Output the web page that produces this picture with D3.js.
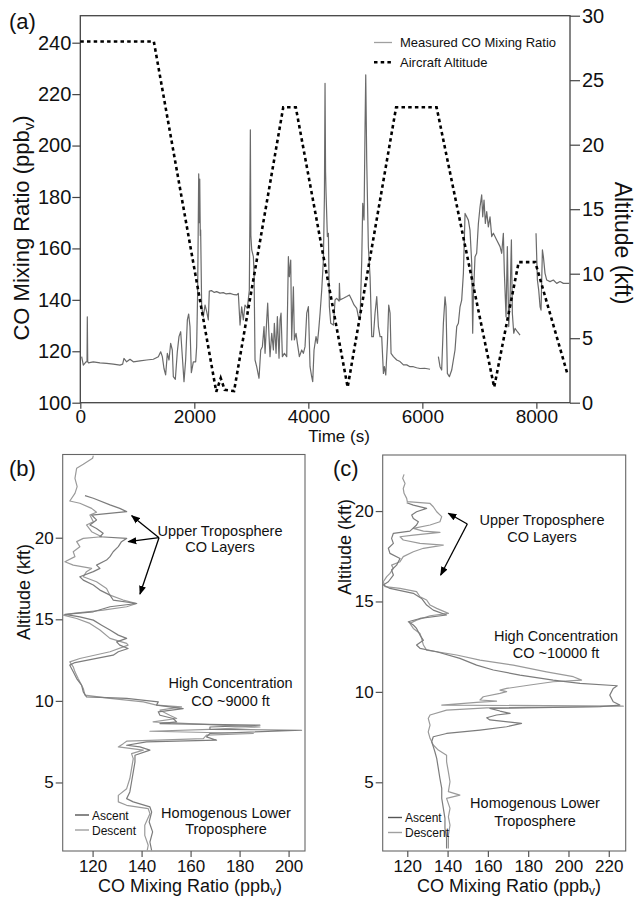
<!DOCTYPE html>
<html>
<head>
<meta charset="utf-8">
<script src="https://cdn.jsdelivr.net/npm/d3@7"></script>
<style>
body { margin: 0; background: #fff; }
text { font-family: "Liberation Sans", Arial, sans-serif; fill: #111; }
</style>
</head>
<body>
<script>
// ---- panel (a): time series, [time s, CO ppbv] ----
var coSeg1 = [[24,117.9],[53,114.6],[100,115.9],[118,116],[123,133.4],[130,116],[141,115.5],[228,115.9],[345,115.5],[462,115.3],[579,115.0],[696,114.6],[743,115.0],[766,117.2],[813,115.9],[872,116.9],[930,115.9],[1047,116.3],[1164,116.6],[1281,116.9],[1369,117.9],[1410,119.8],[1439,117.9],[1468,113.3],[1497,110.8],[1527,119.2],[1556,116.6],[1585,123.1],[1614,120.5],[1632,110.1],[1667,109.1],[1702,119.8],[1731,125.7],[1761,127.6],[1790,117.9],[1819,108.2],[1848,116.6],[1878,132.2],[1901,134.5],[1924,129.6],[1948,111.7],[1983,115.9],[2024,115.9],[2041,121.8],[2059,143.8],[2077,189],[2088,170],[2095,187],[2105,165],[2111,167.2],[2129,137.3],[2158,133.4],[2188,138.0],[2217,135.4],[2246,132.2],[2263,143.4],[2300,143.6],[2350,142.9],[2392,143.2],[2450,142.6],[2509,142.8],[2560,142.3],[2626,142.5],[2700,142.0],[2743,141.9],[2772,142.5],[2802,130.2],[2831,137.3],[2860,132.2],[2889,138.0],[2930,136.7],[2965,143.8],[2974,170],[2983,206.1],[2992,165],[3007,159.4],[3036,156.8],[3048,150.3],[3065,116.6],[3094,114.0],[3135,109.5],[3165,120.5],[3194,121.8],[3223,129.6],[3241,119.2],[3270,132.2],[3287,138.7],[3311,125.7],[3328,117.9],[3358,127.0],[3387,120.5],[3404,130.9],[3434,119.2],[3457,133.5],[3486,117.3],[3504,132.2],[3521,134.8],[3545,117.9],[3580,119.2],[3621,117.9],[3650,156.8],[3667,149.0],[3691,155.5],[3708,124.4],[3738,145.1],[3755,124.4],[3784,127.0],[3808,123.1],[3843,117.9],[3884,120.5],[3913,119.2],[3942,121.8],[3972,134.8],[4001,137.4],[4030,114.0],[4059,110.1],[4077,108.2],[4100,120.5],[4135,125.7],[4159,123.1],[4182,128.3],[4206,134.8],[4235,143.8],[4264,155.5],[4282,180],[4293,224.2],[4302,190],[4311,181.4],[4334,164.6],[4352,165.9],[4369,137.4],[4393,130.9],[4440,130.2],[4469,140.0],[4498,140.6],[4540,139.5],[4545,146.4],[4556,140.0],[4615,140.6],[4673,141.3],[4720,141.9],[4761,140.0],[4802,138.0],[4849,136.7],[4878,133.5],[4907,132.2],[4937,155.5],[4954,177.5],[4977,171.1],[4995,207.4],[5007,227.5],[5024,194.4],[5053,160.7],[5083,149.0],[5112,125.7],[5141,125.7],[5170,134.8],[5200,141.3],[5229,129.6],[5258,125.7],[5287,125.7],[5317,111.4],[5334,114.0],[5358,110.8],[5387,123.1],[5410,138.0],[5434,134.8],[5451,119.2],[5492,117.9],[5551,116.6],[5609,116.0],[5668,114.7],[5726,114.7],[5784,114.0],[5842,114.0],[5900,113.6],[5959,113.3],[6040,113.4],[6135,113.0]];
var coSeg2 = [[6281,117.9],[6310,114.0],[6339,112.7],[6369,130.9],[6398,141.2],[6415,137.3],[6439,111.4],[6474,110.1],[6515,112.7],[6544,116.6],[6573,120.5],[6603,129.6],[6632,130.9],[6661,137.3],[6690,139.9],[6720,150.3],[6749,173.6],[6778,172.3],[6807,171.0],[6836,167.1],[6866,154.2],[6883,127.0],[6895,141.2],[6924,156.8],[6953,158.1],[6983,169.7],[7012,176.2],[7041,180.8],[7059,172.3],[7082,178.8],[7105,169.7],[7129,174.3],[7158,168.4],[7187,172.3],[7217,164.6],[7246,165.9],[7304,163.3],[7363,160.7],[7392,158.1],[7421,165.9],[7439,150.3],[7468,133.4],[7491,160.7],[7515,129.6],[7538,139.9],[7562,163.3],[7579,134.7],[7603,127.0],[7626,128.9],[7667,127.6],[7714,126.3]];
var coSeg3 = [[7994,165.9],[8018,147.7],[8041,143.8],[8065,137.3],[8082,136.0],[8106,159.4],[8123,156.8],[8152,150.3],[8182,147.7],[8240,147.1],[8298,147.7],[8357,146.4],[8415,147.1],[8474,146.4],[8579,146.4]];
// [time s, altitude kft]
var altitude = [[0,28],[1290,28],[2385,0.85],[2463,1.9],[2533,1.0],[2697,0.9],[3560,22.9],[3780,22.9],[4690,1.2],[5540,22.9],[6250,22.9],[7260,1.2],[7690,10.9],[7980,10.9],[8540,2.3]];

var timeTicks = [0, 2000, 4000, 6000, 8000];
var coTicksA = [100, 120, 140, 160, 180, 200, 220, 240];
var altTicksA = [0, 5, 10, 15, 20, 25, 30];

// ---- panel (b): profile, [CO ppbv, altitude kft] ----
var descentB = [[120.3,25.03],[120.0,24.87],[116.2,24.50],[113.5,24.26],[112.8,23.64],[113.7,23.13],[112.8,22.72],[110.7,22.25],[114.8,22.11],[119.6,21.80],[121.6,21.56],[118.9,21.39],[120.3,20.98],[117.5,20.78],[119.6,20.37],[123.7,20.06],[116.2,19.96],[113.5,19.76],[114.8,19.45],[112.1,19.14],[112.8,18.84],[108.7,18.53],[112.1,18.32],[119.6,18.12],[117.5,17.92],[116.2,17.61],[121.6,17.30],[125.7,16.89],[127.1,16.48],[132.5,16.18],[138.0,15.97],[133.9,15.77],[124.3,15.56],[112.1,15.36],[108.0,15.26],[113.5,15.05],[118.9,14.75],[123.0,14.34],[127.1,13.83],[133.9,13.52],[134.5,13.42],[127.1,13.01],[114.8,12.60],[110.7,12.39],[112.1,12.09],[112.8,11.78],[114.1,11.37],[116.2,10.76],[116.9,10.35],[127.1,10.15],[140.7,9.94],[146.1,9.74],[156.3,9.63],[147.5,9.43],[151.5,9.12],[154.3,8.92],[144.7,8.71],[188.3,8.40],[167.9,8.26],[143.4,8.14],[185.6,8.00],[166.5,7.90],[165.2,7.69],[133.9,7.53],[132.5,7.38],[130.5,7.18],[140.7,6.98],[135.9,6.77],[136.6,6.46],[135.9,5.85],[135.2,5.24],[133.9,4.62],[130.5,4.21],[130.5,3.81],[133.9,3.60],[142.7,3.40],[143.4,3.09],[141.3,2.38],[141.3,1.76],[142.7,1.15],[142.3,0.84]];
var ascentB = [[144.1,0.84],[143.4,1.35],[144.5,1.97],[143.1,2.58],[144.1,3.19],[143.4,3.50],[136.6,3.81],[133.9,4.01],[135.2,4.42],[135.9,5.03],[136.6,5.65],[137.3,6.26],[137.3,6.67],[143.4,6.98],[139.3,7.18],[133.9,7.28],[142.0,7.49],[170.6,7.59],[166.5,7.79],[167.9,8.00],[205.3,8.20],[167.9,8.26],[167.9,8.40],[188.3,8.51],[147.5,8.61],[154.3,8.71],[152.9,8.92],[147.5,9.12],[146.8,9.33],[157.0,9.53],[146.1,9.74],[146.8,9.94],[133.9,10.15],[117.5,10.25],[116.2,10.55],[115.5,10.96],[113.5,11.37],[112.1,11.78],[110.7,12.19],[112.8,12.35],[121.6,12.60],[128.4,12.80],[130.5,13.01],[134.5,13.21],[131.1,13.42],[129.8,13.62],[133.9,13.83],[130.5,14.03],[127.1,14.34],[123.7,14.64],[120.3,14.95],[114.8,15.15],[108.7,15.30],[120.3,15.46],[127.1,15.77],[138.0,15.97],[128.4,16.18],[127.1,16.48],[123.0,16.79],[120.3,17.10],[116.2,17.40],[114.8,17.61],[120.3,17.92],[123.0,18.12],[121.6,18.32],[125.7,18.63],[127.1,18.84],[128.4,19.14],[130.5,19.45],[131.8,19.76],[133.9,19.96],[123.0,20.06],[124.3,20.27],[121.6,20.57],[118.9,20.78],[121.6,21.09],[119.6,21.39],[133.9,21.60],[131.1,21.80],[127.1,22.01],[120.3,22.42],[116.9,22.58]];
var coTicksB = [120, 140, 160, 180, 200];

// ---- panel (c): profile, [CO ppbv, altitude kft] ----
var descentC = [[118.4,22.03],[117.7,21.81],[118.9,21.53],[118.0,21.25],[118.4,20.98],[119.7,20.70],[120.0,20.52],[131.3,20.42],[132.9,20.24],[134.6,19.96],[137.1,19.69],[136.2,19.41],[131.3,19.23],[123.0,19.04],[128.0,18.89],[136.2,18.82],[123.0,18.67],[116.4,18.58],[118.0,18.40],[126.3,18.21],[137.9,18.12],[128.0,17.94],[123.0,17.75],[118.0,17.48],[116.4,17.20],[112.2,17.01],[113.1,16.83],[111.4,16.55],[109.8,16.37],[108.1,16.09],[108.9,15.82],[116.4,15.72],[124.6,15.54],[126.3,15.26],[129.6,15.08],[131.3,14.80],[134.6,14.62],[140.4,14.34],[131.3,14.21],[124.6,13.97],[121.3,13.79],[123.0,13.51],[126.3,13.23],[127.1,12.96],[128.0,12.59],[129.6,12.31],[144.5,12.04],[156.1,11.76],[172.6,11.48],[189.1,11.11],[202.4,10.84],[206.5,10.65],[192.4,10.56],[180.9,10.38],[169.3,10.19],[166.0,10.10],[169.3,10.01],[166.0,9.92],[157.7,9.73],[156.1,9.55],[164.3,9.49],[154.4,9.42],[137.1,9.27],[227.2,9.21],[159.4,9.12],[139.5,8.99],[131.3,8.72],[130.4,8.53],[131.3,8.16],[130.4,7.79],[131.3,7.43],[132.9,7.06],[135.4,6.78],[139.5,6.50],[139.5,6.14],[140.4,5.58],[141.2,5.03],[140.4,4.48],[146.1,4.29],[139.5,4.11],[141.2,3.56],[140.4,3.09],[141.2,2.63],[140.4,2.08],[140.4,1.34]];
var ascentC = [[139.5,1.34],[139.5,1.90],[138.7,2.45],[138.7,3.00],[137.9,3.56],[137.1,4.11],[137.1,4.66],[136.2,5.21],[135.4,5.77],[134.6,6.32],[133.7,6.69],[132.9,6.97],[132.1,7.24],[132.9,7.52],[139.5,7.70],[156.1,7.89],[169.3,8.07],[176.7,8.26],[161.0,8.45],[159.4,8.57],[164.3,8.72],[171.0,8.81],[166.0,8.94],[161.0,9.09],[215.6,9.18],[225.5,9.27],[222.2,9.45],[220.5,9.82],[222.2,10.19],[224.2,10.34],[205.7,10.47],[192.4,10.65],[175.9,10.93],[162.7,11.21],[154.4,11.48],[146.1,11.85],[134.6,12.22],[126.3,12.41],[124.6,12.59],[128.0,12.85],[126.3,13.14],[124.6,13.51],[123.0,13.70],[120.5,13.88],[126.3,14.06],[139.5,14.25],[132.9,14.52],[129.6,14.80],[127.1,15.17],[123.0,15.45],[111.4,15.72],[108.1,15.91],[110.6,16.09],[113.1,16.46],[112.2,16.74],[114.7,17.01],[116.4,17.38],[111.4,17.66],[110.6,17.94],[113.1,18.21],[112.2,18.49],[113.1,18.77],[121.3,18.89],[124.6,19.23],[125.5,19.41],[123.0,19.59],[122.2,19.78],[124.6,19.96],[129.6,20.15],[123.0,20.33],[119.7,20.46]];
var coTicksC = [120, 140, 160, 180, 200, 220];
var altTicksBC = [5, 10, 15, 20];

var svg = d3.select("body").append("svg")
    .attr("width", 638)
    .attr("height", 901);

svg.append("defs").append("marker")
    .attr("id", "arrow")
    .attr("markerUnits", "userSpaceOnUse")
    .attr("markerWidth", 9).attr("markerHeight", 8)
    .attr("refX", 8).attr("refY", 4)
    .attr("orient", "auto")
  .append("path")
    .attr("d", "M0,0.5L9,4L0,7.5Z")
    .attr("fill", "#000");

var styleAxis = function(g, color, size) {
    g.select(".domain").remove();
    g.selectAll(".tick line").attr("stroke", color).attr("stroke-width", 1.2);
    g.selectAll(".tick text").attr("fill", "#111").attr("font-size", size)
        .attr("font-family", "'Liberation Sans', Arial, sans-serif");
};

var fmt = d3.format("d");

// ================= panel (a) =================
var xA = d3.scaleLinear().domain([0, 8590]).range([80.3, 570]);
var yCO = d3.scaleLinear().domain([100, 250.5]).range([402.7, 15.7]);
var yAlt = d3.scaleLinear().domain([0, 30]).range([402.7, 15.7]);

svg.append("rect")
    .attr("x", 80.3).attr("y", 15.7)
    .attr("width", 570 - 80.3).attr("height", 402.7 - 15.7)
    .attr("fill", "none").attr("stroke", "#444").attr("stroke-width", 1.3);

svg.append("g").attr("transform", "translate(80.3,0)")
    .call(d3.axisLeft(yCO).tickValues(coTicksA).tickFormat(fmt).tickSize(8).tickPadding(1))
    .call(styleAxis, "#444", "20px");

svg.append("g").attr("transform", "translate(570,0)")
    .call(d3.axisRight(yAlt).tickValues(altTicksA).tickFormat(fmt).tickSize(10).tickPadding(2))
    .call(styleAxis, "#444", "20px");

svg.append("g").attr("transform", "translate(0,402.7)")
    .call(d3.axisBottom(xA).tickValues(timeTicks).tickFormat(fmt).tickSize(6).tickPadding(1))
    .call(styleAxis, "#444", "19px");

var coLine = d3.line()
    .x(function(d) { return xA(d[0]); })
    .y(function(d) { return yCO(d[1]); });

[coSeg1, coSeg2, coSeg3].forEach(function(seg) {
    svg.append("path")
        .attr("d", coLine(seg))
        .attr("fill", "none")
        .attr("stroke", "#6a6a6a")
        .attr("stroke-width", 1.2)
        .attr("stroke-linejoin", "round");
});

var altLine = d3.line()
    .x(function(d) { return xA(d[0]); })
    .y(function(d) { return yAlt(d[1]); });

svg.append("path")
    .attr("d", altLine(altitude))
    .attr("fill", "none")
    .attr("stroke", "#000")
    .attr("stroke-width", 2.6)
    .attr("stroke-dasharray", "3.5,3.2");

// legend (a)
svg.append("line").attr("x1", 374).attr("x2", 392).attr("y1", 42.5).attr("y2", 42.5)
    .attr("stroke", "#a0a0a0").attr("stroke-width", 1.3);
svg.append("text").attr("x", 400).attr("y", 47).attr("font-size", "13px").text("Measured CO Mixing Ratio");
svg.append("line").attr("x1", 374).attr("x2", 392).attr("y1", 62.3).attr("y2", 62.3)
    .attr("stroke", "#000").attr("stroke-width", 2.6).attr("stroke-dasharray", "3.5,3.2");
svg.append("text").attr("x", 400).attr("y", 67).attr("font-size", "13px").text("Aircraft Altitude");

svg.append("text").attr("x", 9).attr("y", 29).attr("font-size", "22px").text("(a)");

var leftTitle = svg.append("text")
    .attr("transform", "translate(29,228) rotate(-90)")
    .attr("text-anchor", "middle")
    .attr("font-size", "22px");
leftTitle.append("tspan").text("CO Mixing Ratio (ppb");
leftTitle.append("tspan").attr("font-size", "15px").attr("dy", 5).text("v");
leftTitle.append("tspan").attr("dy", -5).text(")");

svg.append("text")
    .attr("transform", "translate(615,243) rotate(90)")
    .attr("text-anchor", "middle")
    .attr("font-size", "23px")
    .text("Altitude (kft)");

svg.append("text").attr("x", 339).attr("y", 442).attr("text-anchor", "middle")
    .attr("font-size", "17px").text("Time (s)");

// ================= panels (b) and (c) =================
var drawProfile = function(p) {
    var x = d3.scaleLinear().domain(p.xDomain).range([p.left, p.right]);
    var y = d3.scaleLinear().domain(p.yDomain).range([p.bottom, p.top]);

    svg.append("rect")
        .attr("x", p.left).attr("y", p.top)
        .attr("width", p.right - p.left).attr("height", p.bottom - p.top)
        .attr("fill", "none").attr("stroke", "#666").attr("stroke-width", 1.1);

    svg.append("g").attr("transform", "translate(" + p.left + ",0)")
        .call(d3.axisLeft(y).tickValues(altTicksBC).tickFormat(fmt).tickSize(7).tickPadding(2))
        .call(styleAxis, "#555", "17px");

    svg.append("g").attr("transform", "translate(0," + p.bottom + ")")
        .call(d3.axisBottom(x).tickValues(p.xTicks).tickFormat(fmt).tickSize(6).tickPadding(3))
        .call(styleAxis, "#555", "17px");

    var line = d3.line()
        .x(function(d) { return x(d[0]); })
        .y(function(d) { return y(d[1]); });

    svg.append("path").attr("d", line(p.descent))
        .attr("fill", "none").attr("stroke", "#9a9a9a").attr("stroke-width", 1.2)
        .attr("stroke-linejoin", "round");
    svg.append("path").attr("d", line(p.ascent))
        .attr("fill", "none").attr("stroke", "#7c7c7c").attr("stroke-width", 1.2)
        .attr("stroke-linejoin", "round");

    // legend
    svg.append("line").attr("x1", p.legX).attr("x2", p.legX + 14)
        .attr("y1", p.legY).attr("y2", p.legY)
        .attr("stroke", "#555").attr("stroke-width", 1.4);
    svg.append("text").attr("x", p.legX + 17).attr("y", p.legY + 4.5)
        .attr("font-size", "12px").text("Ascent");
    svg.append("line").attr("x1", p.legX).attr("x2", p.legX + 14)
        .attr("y1", p.legY + 15).attr("y2", p.legY + 15)
        .attr("stroke", "#a0a0a0").attr("stroke-width", 1.4);
    svg.append("text").attr("x", p.legX + 17).attr("y", p.legY + 19.5)
        .attr("font-size", "12px").text("Descent");

    svg.append("text").attr("x", p.labelX).attr("y", 476).attr("font-size", "22px").text(p.label);

    svg.append("text")
        .attr("transform", "translate(" + p.yTitleX + "," + p.yTitleY + ") rotate(-90)")
        .attr("text-anchor", "middle").attr("font-size", "18px")
        .text("Altitude (kft)");

    var xt = svg.append("text").attr("x", p.xTitleX).attr("y", 892)
        .attr("text-anchor", "middle").attr("font-size", "18px");
    xt.append("tspan").text("CO Mixing Ratio (ppb");
    xt.append("tspan").attr("font-size", "12px").attr("dy", 3).text("v");
    xt.append("tspan").attr("dy", -3).text(")");

    p.notes.forEach(function(n) {
        svg.append("text").attr("x", n[0]).attr("y", n[1])
            .attr("text-anchor", "middle").attr("font-size", "14.5px")
            .attr("fill", "#222").text(n[2]);
    });
    p.arrows.forEach(function(a) {
        svg.append("line")
            .attr("x1", p.arrowFrom[0]).attr("y1", p.arrowFrom[1])
            .attr("x2", a[0]).attr("y2", a[1])
            .attr("stroke", "#000").attr("stroke-width", 1.3)
            .attr("marker-end", "url(#arrow)");
    });
};

drawProfile({
    left: 62.7, right: 305, top: 454.5, bottom: 851,
    xDomain: [107.8, 206.7], yDomain: [0.8, 25.1], xTicks: coTicksB,
    descent: descentB, ascent: ascentB,
    legX: 75, legY: 815, label: "(b)", labelX: 9,
    yTitleX: 30, yTitleY: 592, xTitleX: 190,
    notes: [[220, 536, "Upper Troposphere"], [220, 552, "CO Layers"],
            [230.5, 688, "High Concentration"], [230.5, 706, "CO ~9000 ft"],
            [226, 818, "Homogenous Lower"], [226, 834, "Troposphere"]],
    arrowFrom: [159, 537.7],
    arrows: [[131.7, 515.7], [128.3, 541.7], [140, 594]]
});

drawProfile({
    left: 382.7, right: 625.7, top: 455, bottom: 851,
    xDomain: [107.8, 228.4], yDomain: [1.2, 23.1], xTicks: coTicksC,
    descent: descentC, ascent: ascentC,
    legX: 388, legY: 817.5, label: "(c)", labelX: 333,
    yTitleX: 351, yTitleY: 547, xTitleX: 509,
    notes: [[542, 525, "Upper Troposphere"], [542, 542, "CO Layers"],
            [556, 641, "High Concentration"], [556, 658, "CO ~10000 ft"],
            [535, 808, "Homogenous Lower"], [535, 826, "Troposphere"]],
    arrowFrom: [467.3, 524],
    arrows: [[448.3, 513.3], [440.7, 575]]
});
</script>
</body>
</html>
